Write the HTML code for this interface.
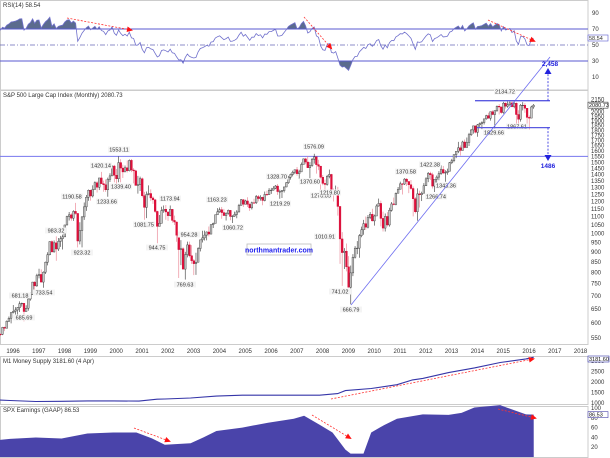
<!DOCTYPE html>
<html><head><meta charset="utf-8"><style>
html,body{margin:0;padding:0;background:#fff;}
svg{display:block;font-family:"Liberation Sans",sans-serif;}
</style></head><body>
<svg id="c" width="610" height="458" viewBox="0 0 610 458" xmlns="http://www.w3.org/2000/svg">
<defs>
<clipPath id="clipHi"><rect x="0" y="0" width="588" height="29"/></clipPath>
<clipPath id="clipLo"><rect x="0" y="61.5" width="588" height="28"/></clipPath>
</defs>
<rect x="0" y="0" width="610" height="458" fill="#fff"/>
</svg>
<script>
// ---- data ----
const warmCloses=[481.6,467.1,445.8,450.9,456.5,444.3,458.3,475.5,462.7,472.4,453.7,459.3,470.4,487.4,500.7,514.7,533.4,544.8,562.1];
const closes=[561.9,584.4,581.5,605.4,615.9,
636.0,640.4,645.5,654.2,669.1,670.6,639.9,652.0,687.3,705.3,757.0,740.7,
786.2,790.8,757.1,801.3,848.3,885.1,954.3,899.5,947.3,914.6,955.4,970.4,
980.3,1049.3,1101.8,1111.8,1090.8,1133.8,1120.7,957.3,1017.0,1098.7,1163.6,1229.2,
1279.6,1238.3,1286.4,1335.2,1301.8,1372.7,1328.7,1320.4,1282.7,1362.9,1388.9,1469.3,
1394.5,1366.4,1498.6,1452.4,1420.6,1454.6,1430.8,1517.7,1436.5,1429.4,1315.2,1320.3,
1366.0,1239.9,1160.3,1249.5,1255.8,1224.4,1211.2,1133.6,1040.9,1059.8,1139.5,1148.1,
1130.2,1106.7,1147.4,1076.9,1067.1,989.8,911.6,916.1,815.3,885.8,936.3,879.8,
855.7,841.2,848.2,916.9,963.6,974.5,990.3,1008.0,996.0,1050.7,1058.2,1111.9,
1131.1,1144.9,1126.2,1107.3,1120.7,1140.8,1101.7,1104.2,1114.6,1130.2,1173.8,1211.9,
1181.3,1203.6,1180.6,1156.9,1191.5,1191.3,1234.2,1220.3,1228.8,1207.0,1249.5,1248.3,
1280.1,1280.7,1294.8,1310.6,1270.1,1270.2,1276.7,1303.8,1335.9,1377.9,1400.6,1418.3,
1438.2,1406.8,1420.9,1482.4,1530.6,1503.4,1455.3,1474.0,1526.8,1549.4,1481.1,1468.4,
1378.6,1330.6,1322.7,1385.6,1400.4,1280.0,1267.4,1282.8,1166.4,968.8,896.2,903.3,
825.9,735.1,797.9,872.8,919.1,919.3,987.5,1020.6,1057.1,1036.2,1095.6,1115.1,
1073.9,1104.5,1169.4,1186.7,1089.4,1030.7,1101.6,1049.3,1141.2,1183.3,1180.6,1257.6,
1286.1,1327.2,1325.8,1363.6,1345.2,1320.6,1292.3,1218.9,1131.4,1253.3,1247.0,1257.6,
1312.4,1365.7,1408.5,1397.9,1310.3,1362.2,1379.3,1406.6,1440.7,1412.2,1416.2,1426.2,
1498.1,1514.7,1569.2,1597.6,1630.7,1606.3,1685.7,1633.0,1681.6,1756.5,1805.8,1848.4,
1782.6,1859.5,1872.3,1883.95,1923.6,1960.2,1930.7,2003.4,1972.3,2018.1,2067.6,2058.9,
1995.0,2104.5,2067.9,2085.5,2107.4,2063.1,2103.8,1972.2,1920.0,2079.4,2080.4,2043.9,
1940.2,1932.2,2059.7,2080.7];
const highs=[565,586,587,608,622,
637,664,656,656,678,673,672,663,690,714,758,761,
794,817,814,805,851,898,956,961,960,983,974,986,
993,1050,1106,1130,1122,1141,1190,1121,1066,1104,1193,1245,
1285,1283,1316,1346,1347,1372,1421,1352,1361,1375,1410,1474,
1479,1445,1553,1528,1480,1474,1517,1525,1530,1452,1438,1389,
1383,1376,1268,1270,1316,1286,1236,1218,1138,1111,1164,1173,
1176,1131,1173,1147,1107,1070,990,962,924,900,954,954,
935,864,895,924,965,1015,1016,1011,1040,1054,1063,1113,
1155,1159,1163,1150,1128,1146,1141,1109,1132,1142,1184,1217,
1217,1212,1229,1192,1199,1219,1245,1245,1243,1233,1270,1276,
1295,1297,1310,1318,1326,1284,1281,1306,1340,1389,1407,1431,
1441,1461,1438,1499,1534,1540,1556,1503,1538,1576,1545,1523,
1471,1396,1360,1397,1440,1405,1292,1314,1304,1167,1007,919,
944,878,832,888,930,957,996,1039,1080,1101,1111,1130,
1151,1113,1181,1220,1206,1132,1120,1129,1158,1196,1227,1263,
1303,1344,1333,1371,1371,1346,1357,1308,1230,1293,1277,1269,
1333,1378,1420,1422,1415,1363,1392,1427,1475,1470,1434,1448,
1504,1531,1570,1598,1687,1654,1698,1710,1730,1776,1814,1849,
1851,1868,1884,1897,1925,1969,1992,2006,2019,2019,2076,2094,
2064,2120,2114,2126,2135,2130,2133,2113,2021,2094,2117,2105,
2038,1962,2073,2095];
const lows=[556,559,572,582,603,
598,633,627,624,638,658,605,639,643,681,703,723,
737,773,756,733,793,833,882,897,896,855,904,926,
912,979,1046,1076,1075,1074,1112,923,939,923,1080,1137,
1205,1206,1228,1283,1263,1281,1328,1269,1268,1233,1341,1387,
1339,1326,1339,1339,1372,1422,1416,1425,1419,1331,1315,1255,
1274,1228,1081,1091,1243,1202,1184,1124,945,1040,1058,1125,
1081,1074,1103,1063,1049,953,775,834,815,768,872,872,
840,788,789,847,902,949,960,961,983,995,1031,1061,
1111,1124,1087,1107,1076,1113,1078,1061,1099,1090,1127,1172,
1163,1180,1163,1137,1146,1188,1183,1201,1206,1174,1201,1243,
1245,1253,1277,1288,1246,1219,1224,1263,1302,1327,1360,1385,
1403,1390,1364,1420,1482,1484,1454,1371,1463,1490,1407,1435,
1271,1317,1257,1314,1370,1273,1200,1248,1107,840,741,816,
805,735,667,783,866,888,870,978,992,1020,1029,1085,
1071,1045,1105,1165,1041,1011,1011,1040,1039,1132,1174,1174,
1258,1294,1249,1318,1311,1259,1283,1102,1121,1075,1159,1203,
1259,1312,1340,1358,1292,1267,1325,1355,1397,1403,1343,1398,
1426,1486,1501,1537,1582,1560,1605,1627,1633,1647,1746,1768,
1771,1737,1834,1815,1863,1915,1930,1905,1965,1821,2002,1973,
1981,1981,2040,2049,2067,2056,2044,1867,1872,1894,2019,1993,
1812,1810,1937,2039];
const firstOpen=562;
const startYear=1995, startMonth=7; // Aug 1995 (0-based month)
const yearLabels=[1996,1997,1998,1999,2000,2001,2002,2003,2004,2005,2006,2007,2008,2009,2010,2011,2012,2013,2014,2015,2016,2017,2018];
const priceTicks=[550,600,650,700,750,800,850,900,950,1000,1050,1100,1150,1200,1250,1300,1350,1400,1450,1500,1550,1600,1650,1700,1750,1800,1850,1900,1950,2000,2050,2100,2150];
const rsiTicks=[10,30,50,70,90];
const m1Dates=[1995.6,1996,1997,1998,1999,2000,2001,2001.7,2002,2003,2004,2005,2006,2007,2008,2008.7,2009,2010,2011,2011.6,2012,2013,2014,2015,2016,2016.3];
const m1Values=[1140,1120,1070,1080,1100,1100,1090,1180,1190,1240,1330,1370,1370,1370,1370,1450,1590,1690,1870,2100,2170,2450,2670,2930,3100,3181.6];
const m1Ticks=[1000,1500,2000,2500,3000];
const epsDates=[1995.6,1996,1997,1998,1999,2000,2000.9,2001.5,2002,2003,2003.5,2004,2005,2006,2007,2007.4,2008,2008.5,2009,2009.2,2009.7,2010,2010.5,2011,2012,2013,2013.5,2014,2015,2015.3,2016,2016.3];
const epsValues=[35,37,39.7,37.7,48,50,50,38,25,28,40,53,60,70,78,84,66,50,15,7,7,50,65,78,87,86,90,101,106,100,87,86.53];
const epsTicks=[20,40,60,80,100];
const priceLabels=[["1553.11",119,151],["1420.14",101,167],["1339.40",121,188],["1233.66",107,203],["1190.58",72,198],["983.32",56,232],["923.32",82,254],["1081.75",144,226],["944.75",157,249],["1173.94",170,200],["954.28",189,236],["769.63",185,286],["1163.23",217,201],["1060.72",233,229],["1328.70",277,178],["1219.29",280,205],["681.18",20,297],["733.54",44,294],["685.69",24,319],["1576.09",314,148],["1370.60",310,183],["1270.05",321,197],["1219.80",330,194],["1010.91",325,238],["741.02",340,293],["666.79",351,311],["1370.58",406,173],["1422.38",430,166],["1343.36",446,187],["1266.74",436,198],["1829.66",494,134],["1867.61",517,128],["2134.72",505,93]];

// ---- scales ----
const NS="http://www.w3.org/2000/svg";
const svg=document.getElementById('c');
function xT(t){return 10+(t-1996)*25.8;}
function xM(i){return xT(startYear+(startMonth+i+0.5)/12);}
function yP(v){return 338-175*Math.log(v/550);}
function yR(v){return 45-(v-50)*0.8;}
function yM1(v){return 403-(v-1000)*0.021;}
function yE(v){return 457-v*0.49;}
function mk(tag,attrs){const e=document.createElementNS(NS,tag);for(const k in attrs)e.setAttribute(k,attrs[k]);svg.appendChild(e);return e;}
function txt(s,x,y,size,fill,anchor,weight){const e=mk('text',{x:x,y:y,'font-size':size,fill:fill,'text-anchor':anchor||'start','font-weight':weight||'normal'});e.textContent=s;return e;}

// ---- panels ----
let p;
p=mk('rect',{x:0.5,y:0.5,width:587.5,height:89.5,fill:'none',stroke:'#ccc'});


p=mk('rect',{x:0.5,y:90.5,width:587.5,height:254,fill:'none',stroke:'#ccc'});


p=mk('rect',{x:0.5,y:356.5,width:587.5,height:48,fill:'none',stroke:'#ccc'});


p=mk('rect',{x:0.5,y:406.5,width:587.5,height:51,fill:'none',stroke:'#ccc'});



// ---- RSI ----
const all=warmCloses.concat(closes);
let ag=0,al=0;const rsi=[];
for(let k=1;k<all.length;k++){const d=all[k]-all[k-1];const g=Math.max(d,0),l=Math.max(-d,0);
 if(k<=14){ag+=g/14;al+=l/14;}else{ag=(ag*13+g)/14;al=(al*13+l)/14;}
 if(k>=warmCloses.length){rsi.push(al===0?100:100-100/(1+ag/al));}}
let pts=rsi.map((v,i)=>xM(i).toFixed(1)+','+yR(v).toFixed(1));
const hiPoly=mk('polygon',{points:xM(0)+','+yR(70)+' '+pts.join(' ')+' '+xM(rsi.length-1)+','+yR(70),fill:'#5b6b8e','clip-path':'url(#clipHi)'});


const loPoly=mk('polygon',{points:xM(0)+','+yR(30)+' '+pts.join(' ')+' '+xM(rsi.length-1)+','+yR(30),fill:'#5b6b8e','clip-path':'url(#clipLo)'});


rsiTicks.forEach(v=>{
 if(v===70||v===30){const l=mk('line',{x1:0,x2:588,y1:yR(v),y2:yR(v),stroke:'#5a5ad0','stroke-width':1});
  
  }
 if(v===50){const l=mk('line',{x1:0,x2:588,y1:yR(v),y2:yR(v),stroke:'#6a6ab8','stroke-width':0.8,'stroke-dasharray':'5,2,1,2'});
  
  }
 const t=txt(String(v),592,yR(v)+2,6,'#333');
 
 
});
const rl=mk('polyline',{points:pts.join(' '),fill:'none',stroke:'#7070cc','stroke-width':0.8});


let t0=txt('RSI(14) 58.54',3,7,6,'#333');


const rb=mk('rect',{x:588,y:35,width:20,height:6,fill:'#fff',stroke:'#5a5ad0','stroke-width':0.6});


t0=txt('58.54',589,40,5.5,'#333');



// ---- price ----
const hl=mk('line',{x1:0,x2:588,y1:yP(1553),y2:yP(1553),stroke:'#7777ee','stroke-width':1});


closes.forEach((c,i)=>{
 const o=i===0?firstOpen:closes[i-1];const up=c>=o;const x=xM(i);
 const w=mk('line',{x1:x,x2:x,y1:yP(highs[i]),y2:yP(lows[i]),stroke:up?'#333':'#e87a8a','stroke-width':0.6});
 
 
 const top=yP(Math.max(o,c)),bot=yP(Math.min(o,c));
 const b=mk('rect',{x:x-0.9,y:top,width:1.8,height:Math.max(bot-top,0.6),fill:up?'#c8c8c8':'#e0103a',stroke:up?'#333':'#d00030','stroke-width':0.4});
 
 
});
priceTicks.forEach(v=>{const t=txt(String(v),591,yP(v)+2,6,'#333');
 
 });
priceLabels.forEach(a=>{
 const bg=mk('rect',{x:a[1]-11,y:a[2]-4.5,width:22,height:6,fill:'#f4f4f4'});
 
 
 const t=txt(a[0],a[1],a[2]+0.5,5.5,'#333','middle');
 
 });
// trend line + targets
let e=mk('line',{x1:351,y1:305,x2:550,y2:57,stroke:'#6d6df0','stroke-width':0.8});


e=mk('line',{x1:475,x2:550,y1:yP(2134.72),y2:yP(2134.72),stroke:'#5a5ae0','stroke-width':1.3});


e=mk('line',{x1:477,x2:550,y1:yP(1829.66),y2:yP(1829.66),stroke:'#5a5ae0','stroke-width':1.3});


e=mk('line',{x1:548,x2:548,y1:yP(2134.72),y2:74,stroke:'#2222dd','stroke-width':0.8,'stroke-dasharray':'2,1.5'});


e=mk('polygon',{points:'544.5,74 551.5,74 548,68',fill:'#2222dd'});


e=txt('2,458',550,66,6.5,'#2222dd','middle','bold');


e=mk('line',{x1:548,x2:548,y1:yP(1829.66),y2:155,stroke:'#2222dd','stroke-width':0.8,'stroke-dasharray':'2,1.5'});


e=mk('polygon',{points:'544.5,155 551.5,155 548,161',fill:'#2222dd'});


e=txt('1486',548,168,6.5,'#2222dd','middle','bold');


e=mk('rect',{x:588,y:yP(2080.73)-3,width:20,height:6,fill:'#fff',stroke:'#333','stroke-width':0.6});


e=txt('2080.73',589,yP(2080.73)+2,5.5,'#111');


e=txt('S&P 500 Large Cap Index (Monthly) 2080.73',3,97,6,'#333');


e=mk('rect',{x:247,y:244,width:64,height:11,fill:'#fff',stroke:'#bbb','stroke-width':0.8});


e=txt('northmantrader.com',279,252.5,7,'#2222ee','middle','bold');



// ---- year axis ----
yearLabels.forEach(y=>{const t=txt(String(y),xT(y)+3,353,6,'#333','middle');
 
 });

// ---- M1 ----
e=mk('polyline',{points:m1Dates.map((d,i)=>xT(d).toFixed(1)+','+yM1(m1Values[i]).toFixed(1)).join(' '),fill:'none',stroke:'#3535a8','stroke-width':1.1});


m1Ticks.forEach(v=>{const t=txt(String(v),591,yM1(v)+2,6,'#333');
 
 });
e=txt('M1 Money Supply 3181.60 (4 Apr)',3,363,6,'#333');


e=mk('rect',{x:588,y:356,width:21,height:6,fill:'#fff',stroke:'#3535a8','stroke-width':0.6});


e=txt('3181.60',589,361,5.5,'#111');



// ---- earnings ----
const ep=[xT(epsDates[0])+','+457].concat(epsDates.map((d,i)=>xT(d).toFixed(1)+','+yE(epsValues[i]).toFixed(1))).concat([xT(epsDates[epsDates.length-1])+','+457]);
e=mk('polygon',{points:ep.join(' '),fill:'#4a44aa'});


epsTicks.forEach(v=>{const t=txt(String(v),591,yE(v)+2,6,'#333');
 
 });
e=txt('SPX Earnings (GAAP) 86.53',3,412,6,'#333');


e=mk('rect',{x:588,y:yE(86.53)-3,width:20,height:6,fill:'#fff',stroke:'#4a44aa','stroke-width':0.6});


e=txt('86.53',589,yE(86.53)+2,5.5,'#111');



// ---- red divergence arrows ----
const arrows=[[67,18,131,30],[304,17,331,48],[488,20,534,41],[331,399,533,359],[134,428,169,441],[312,415,350,438],[498,409,535,418]];
arrows.forEach(a=>{
 const l=mk('line',{x1:a[0],y1:a[1],x2:a[2],y2:a[3],stroke:'#ff3333','stroke-width':0.8,'stroke-dasharray':'2,1.5'});
 
 
 const ang=Math.atan2(a[3]-a[1],a[2]-a[0]);const s=4;
 const p1=[a[2]+Math.cos(ang)*2,a[3]+Math.sin(ang)*2];
 const p2=[a[2]-Math.cos(ang)*s+Math.sin(ang)*s*0.7,a[3]-Math.sin(ang)*s-Math.cos(ang)*s*0.7];
 const p3=[a[2]-Math.cos(ang)*s-Math.sin(ang)*s*0.7,a[3]-Math.sin(ang)*s+Math.cos(ang)*s*0.7];
 const h=mk('polygon',{points:[p1,p2,p3].map(q=>q[0].toFixed(1)+','+q[1].toFixed(1)).join(' '),fill:'#ff1111'});
 
 
});
</script>
</body></html>
